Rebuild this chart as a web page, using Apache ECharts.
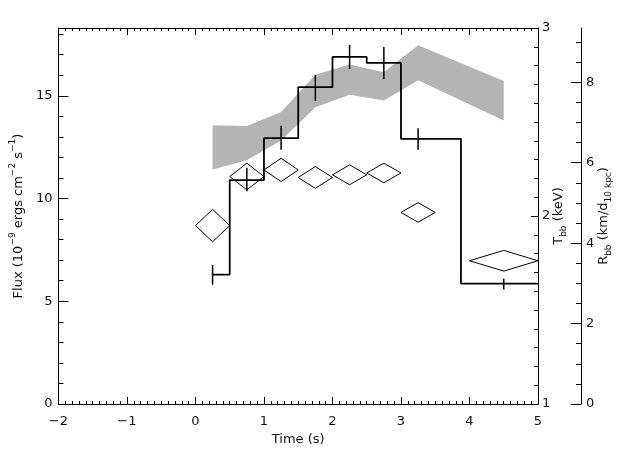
<!DOCTYPE html>
<html><head><meta charset="utf-8">
<script src="https://cdn.jsdelivr.net/npm/echarts@6/dist/echarts.min.js"></script>
<style>html,body{margin:0;padding:0;background:#fff}#c{width:640px;height:457px}</style>
</head><body><div id="c"></div>
<script>
// ---- data ----
const timeCenters   = [0.25, 0.75, 1.25, 1.75, 2.25, 2.75, 3.25, 4.5];
const binEdges      = [0.25, 0.5, 1.0, 1.5, 2.0, 2.5, 3.0, 3.875, 5.0];
const fluxValues    = [6.30, 10.90, 12.94, 15.42, 16.89, 16.60, 12.90, 5.86];
const fluxErrLow    = [5.81, 10.35, 12.37, 14.75, 16.30, 15.81, 12.37, 5.57];
const fluxErrHigh   = [6.76, 11.50, 13.54, 16.02, 17.48, 17.37, 13.42, 6.10];
const timeHalfWidth = [0.25, 0.25, 0.25, 0.25, 0.25, 0.25, 0.25, 0.5];
const kTValues      = [1.949, 2.210, 2.245, 2.205, 2.219, 2.229, 2.019, 1.762];
const kTErrors      = [0.086, 0.071, 0.062, 0.058, 0.053, 0.052, 0.052, 0.055];
const radiusLow     = [5.83, 6.06, 6.55, 7.38, 7.69, 7.55, 8.05, 7.05];
const radiusHigh    = [6.93, 6.91, 7.26, 8.19, 8.44, 8.25, 8.92, 8.03];
const fluxTicks     = [0, 5, 10, 15];
const fluxMinorTicks = [0,1,2,3,4,5,6,7,8,9,10,11,12,13,14,15,16,17,18];
const radiusTicks   = [0, 2, 4, 6, 8];
const radiusMinorTicks = [0,0.5,1,1.5,2,2.5,3,3.5,4,4.5,5,5.5,6,6.5,7,7.5,8,8.5,9];

const FONT = 'DejaVu Sans';
const TXT = '#111';
const chart = echarts.init(document.getElementById('c'), null, {renderer: 'canvas'});

const stepPoints = [];
for (let i = 0; i < fluxValues.length; i++) {
  stepPoints.push([binEdges[i], fluxValues[i]], [binEdges[i + 1], fluxValues[i]]);
}
const errData = timeCenters.map((t, i) => [t, fluxErrLow[i], fluxErrHigh[i]]);
const diamondData = timeCenters.map((t, i) => [t, kTValues[i], timeHalfWidth[i], kTErrors[i]]);
const bandData = timeCenters.map((t, i) => [t, radiusLow[i], radiusHigh[i]]);

const axisLine = {show: true, onZero: false, lineStyle: {color: '#000', width: 1}};
const noLine = {show: false, onZero: false};
const labelBase = {fontFamily: FONT, fontSize: 13, color: TXT};
const nameRich = {
  m: {fontFamily: FONT, fontSize: 13, color: TXT, lineHeight: 17, verticalAlign: 'bottom'},
  sup: {fontFamily: FONT, fontSize: 9, color: TXT, lineHeight: 17, verticalAlign: 'top'},
  s: {fontFamily: FONT, fontSize: 13, color: TXT, lineHeight: 16, verticalAlign: 'top'},
  sub: {fontFamily: FONT, fontSize: 9, color: TXT, lineHeight: 16, verticalAlign: 'bottom'}
};

function xAx(pos, labels) {
  return {
    type: 'value', position: pos, min: -2, max: 5, interval: 1,
    axisLine: axisLine,
    axisTick: {show: true, inside: true, length: 7, lineStyle: {color: '#000'}},
    minorTick: {show: true, splitNumber: 10, length: 3, lineStyle: {color: '#000'}},
    splitLine: {show: false}, minorSplitLine: {show: false},
    axisLabel: Object.assign({show: labels, margin: 11,
      formatter: v => String(v).replace('-', '\u2212')}, labelBase),
    name: labels ? 'Time (s)' : '', nameLocation: 'middle', nameGap: 28,
    nameTextStyle: labelBase
  };
}

chart.setOption({
  animation: false,
  backgroundColor: '#fff',
  grid: {left: 55, right: 102, top: 28, bottom: 53, containLabel: false},
  xAxis: [xAx('bottom', true), xAx('top', false)],
  yAxis: [
    { // flux, major
      type: 'value', position: 'left', min: 0, max: 18.3,
      axisLine: axisLine,
      axisTick: {show: true, inside: true, length: 10, customValues: fluxTicks, lineStyle: {color: '#000'}},
      axisLabel: Object.assign({margin: 6, customValues: fluxTicks}, labelBase),
      splitLine: {show: false},
      name: '{m|Flux (10}{sup|\u22129}{m| ergs cm}{sup|\u22122}{m| s}{sup|\u22121}{m|)}',
      nameLocation: 'middle', nameRotate: 90, nameGap: 28,
      nameTextStyle: {rich: nameRich}
    },
    { // flux, minor
      type: 'value', position: 'left', min: 0, max: 18.3,
      axisLine: noLine,
      axisTick: {show: true, inside: true, length: 5, customValues: fluxMinorTicks, lineStyle: {color: '#000'}},
      axisLabel: {show: false}, splitLine: {show: false}
    },
    { // T_bb
      type: 'value', position: 'right', offset: 0, min: 1, max: 3, interval: 1,
      axisLine: axisLine,
      axisTick: {show: true, inside: true, length: 7, lineStyle: {color: '#000'}},
      minorTick: {show: true, splitNumber: 10, length: 4, lineStyle: {color: '#000'}},
      axisLabel: Object.assign({margin: 4}, labelBase),
      splitLine: {show: false}, minorSplitLine: {show: false},
      name: '{s|T}{sub|bb}{s| (keV)}',
      nameLocation: 'middle', nameRotate: 90, nameGap: 14, nameMoveOverlap: false,
      nameTextStyle: {rich: nameRich}
    },
    { // R_bb major
      type: 'value', position: 'right', offset: 43, min: 0, max: 9.35,
      axisLine: axisLine,
      axisTick: {show: true, inside: true, length: 10, customValues: radiusTicks, lineStyle: {color: '#000'}},
      axisLabel: Object.assign({margin: 5, customValues: radiusTicks}, labelBase),
      splitLine: {show: false},
      name: '{s|R}{sub|bb}{s| (km/d}{sub|10 kpc}{s|)}',
      nameLocation: 'middle', nameRotate: 90, nameGap: 16, nameMoveOverlap: false,
      nameTextStyle: {rich: nameRich}
    },
    { // R_bb minor
      type: 'value', position: 'right', offset: 43, min: 0, max: 9.35,
      axisLine: noLine,
      axisTick: {show: true, inside: true, length: 5, customValues: radiusMinorTicks, lineStyle: {color: '#000'}},
      axisLabel: {show: false}, splitLine: {show: false}
    }
  ],
  series: [
    { // radius band
      type: 'custom', xAxisIndex: 0, yAxisIndex: 3, z: 1, clip: true,
      data: bandData,
      encode: {x: 0, y: [1, 2]},
      renderItem: function (params, api) {
        if (params.dataIndex !== 0) return null;
        const top = bandData.map(d => api.coord([d[0], d[2]]));
        const bot = bandData.map(d => api.coord([d[0], d[1]])).reverse();
        return {type: 'polygon', shape: {points: top.concat(bot)},
          style: {fill: '#b4b4b4', stroke: null}};
      }
    },
    { // flux histogram
      type: 'line', xAxisIndex: 0, yAxisIndex: 0, z: 3,
      data: stepPoints, symbol: 'none', clip: true,
      lineStyle: {color: '#000', width: 1.8}
    },
    { // flux error bars
      type: 'custom', xAxisIndex: 0, yAxisIndex: 0, z: 4,
      data: errData, encode: {x: 0, y: [1, 2]},
      renderItem: function (params, api) {
        const a = api.coord([api.value(0), api.value(1)]);
        const b = api.coord([api.value(0), api.value(2)]);
        return {type: 'line', shape: {x1: a[0], y1: a[1], x2: b[0], y2: b[1]},
          style: {stroke: '#000', lineWidth: 1.5}};
      }
    },
    { // kT diamonds
      type: 'custom', xAxisIndex: 0, yAxisIndex: 2, z: 5, clip: true,
      data: diamondData, encode: {x: 0, y: 1},
      renderItem: function (params, api) {
        const t = api.value(0), v = api.value(1), hw = api.value(2), e = api.value(3);
        const pts = [api.coord([t - hw, v]), api.coord([t, v + e]),
                     api.coord([t + hw, v]), api.coord([t, v - e])];
        return {type: 'polygon', shape: {points: pts},
          style: {fill: null, stroke: '#000', lineWidth: 1}};
      }
    }
  ]
});
</script></body></html>
